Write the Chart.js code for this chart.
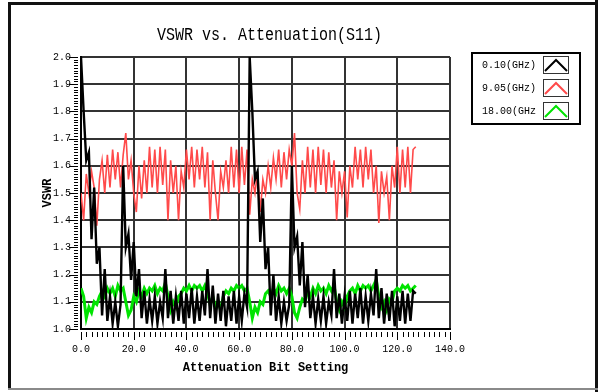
<!DOCTYPE html>
<html>
<head>
<meta charset="utf-8">
<script src="https://cdn.jsdelivr.net/npm/chart.js@4.4.0/dist/chart.umd.min.js"></script>
<style>
  html, body { margin: 0; padding: 0; background: #fff; }
  canvas { display: block; }
</style>
</head>
<body>
<canvas id="c" width="600" height="392"></canvas>
<script>
const chartTitle = 'VSWR vs. Attenuation(S11)';
const xTitle = 'Attenuation Bit Setting';
const yTitle = 'VSWR';
const seriesLabels = ['0.10(GHz)', '9.05(GHz)', '18.00(GHz'];
const seriesColors = ['#000000', '#ff4a4a', '#00e400'];

const bitSetting = [
  0,1,2,3,4,5,6,7,8,9,10,11,12,13,14,15,16,17,18,19,20,21,22,23,24,25,26,27,28,29,30,31,
  32,33,34,35,36,37,38,39,40,41,42,43,44,45,46,47,48,49,50,51,52,53,54,55,56,57,58,59,60,61,62,63,
  64,65,66,67,68,69,70,71,72,73,74,75,76,77,78,79,80,81,82,83,84,85,86,87,88,89,90,91,92,93,94,95,
  96,97,98,99,100,101,102,103,104,105,106,107,108,109,110,111,112,113,114,115,116,117,118,119,120,121,122,123,124,125,126,127
];

const vswr010 = [
  2.00,1.80,1.62,1.65,1.33,1.52,1.24,1.30,1.05,1.22,1.03,1.12,1.02,1.10,1.01,1.09,
  1.60,1.30,1.35,1.18,1.32,1.12,1.22,1.04,1.14,1.02,1.11,1.03,1.12,1.02,1.10,1.04,
  1.22,1.04,1.14,1.02,1.12,1.03,1.14,1.02,1.13,1.04,1.15,1.02,1.12,1.03,1.14,1.05,
  1.22,1.04,1.16,1.02,1.13,1.03,1.14,1.01,1.12,1.03,1.14,1.02,1.12,1.03,1.13,1.08,
  2.00,1.80,1.55,1.58,1.32,1.48,1.22,1.30,1.05,1.20,1.03,1.12,1.02,1.10,1.03,1.09,
  1.60,1.30,1.34,1.16,1.32,1.08,1.20,1.04,1.12,1.02,1.11,1.03,1.12,1.02,1.10,1.05,
  1.22,1.04,1.13,1.02,1.12,1.03,1.14,1.02,1.13,1.04,1.15,1.02,1.12,1.03,1.13,1.05,
  1.22,1.04,1.15,1.02,1.13,1.03,1.14,1.01,1.12,1.03,1.14,1.02,1.13,1.03,1.14,1.13
];

const vswr905 = [
  1.50,1.40,1.57,1.50,1.58,1.52,1.38,1.55,1.62,1.50,1.64,1.52,1.66,1.55,1.65,1.52,
  1.64,1.72,1.55,1.62,1.50,1.43,1.60,1.48,1.62,1.50,1.67,1.52,1.66,1.50,1.67,1.53,
  1.66,1.40,1.62,1.50,1.60,1.40,1.58,1.52,1.66,1.55,1.67,1.52,1.66,1.55,1.67,1.52,
  1.65,1.40,1.62,1.50,1.40,1.58,1.52,1.62,1.50,1.67,1.52,1.66,1.50,1.67,1.53,1.66,
  1.42,1.55,1.50,1.58,1.43,1.55,1.50,1.60,1.52,1.63,1.55,1.66,1.52,1.65,1.55,1.66,
  1.60,1.72,1.50,1.44,1.62,1.50,1.67,1.52,1.66,1.50,1.67,1.53,1.66,1.50,1.65,1.52,
  1.62,1.40,1.58,1.50,1.58,1.41,1.60,1.52,1.67,1.55,1.66,1.52,1.67,1.55,1.66,1.50,
  1.60,1.39,1.58,1.50,1.56,1.40,1.60,1.52,1.67,1.50,1.66,1.52,1.67,1.50,1.66,1.67
];

const vswr1800 = [
  1.15,1.12,1.04,1.08,1.06,1.10,1.09,1.12,1.14,1.12,1.15,1.13,1.15,1.12,1.16,1.14,
  1.15,1.10,1.05,1.07,1.12,1.10,1.14,1.12,1.15,1.13,1.15,1.14,1.16,1.13,1.15,1.14,
  1.17,1.12,1.07,1.10,1.08,1.12,1.13,1.15,1.14,1.16,1.14,1.16,1.15,1.16,1.14,1.16,
  1.13,1.09,1.12,1.08,1.10,1.07,1.12,1.14,1.13,1.15,1.14,1.16,1.15,1.16,1.14,1.15,
  1.10,1.04,1.08,1.06,1.10,1.09,1.13,1.14,1.12,1.15,1.13,1.16,1.14,1.15,1.13,1.15,
  1.12,1.06,1.04,1.08,1.11,1.10,1.14,1.12,1.15,1.13,1.16,1.14,1.15,1.13,1.16,1.14,
  1.16,1.10,1.07,1.10,1.08,1.12,1.14,1.15,1.13,1.16,1.14,1.16,1.15,1.16,1.14,1.16,
  1.18,1.12,1.08,1.10,1.07,1.11,1.10,1.14,1.15,1.14,1.16,1.15,1.16,1.14,1.15,1.16
];

const xTickStep = 20, xMin = 0, xMax = 140;
const yTickStep = 0.1, yMin = 1.0, yMax = 2.0;

const toPoints = arr => arr.map((v, i) => ({ x: bitSetting[i], y: v }));

const MONO = "'Liberation Mono', 'DejaVu Sans Mono', monospace";

const decor = {
  id: 'decor',
  beforeDraw(chart) {
    const { ctx, width, height } = chart;
    ctx.save();
    ctx.fillStyle = '#fff';
    ctx.fillRect(0, 0, width, height);
    ctx.restore();
  },
  afterDraw(chart) {
    const { ctx, chartArea: a, scales: { x, y } } = chart;
    ctx.save();
    ctx.strokeStyle = '#000';
    ctx.lineWidth = 1;
    ctx.beginPath();
    for (let v = xMin; v <= xMax; v += 2) {
      const px = Math.round(x.getPixelForValue(v)) + 0.5;
      const len = v % 20 === 0 ? 8 : 5;
      ctx.moveTo(px, a.bottom + 3);
      ctx.lineTo(px, a.bottom + 3 + len);
    }
    for (let i = 0; i <= 100; i++) {
      const py = Math.round(y.getPixelForValue(yMin + i / 100)) + 0.5;
      const len = i % 10 === 0 ? 9 : 4;
      ctx.moveTo(a.left - 3, py);
      ctx.lineTo(a.left - 3 - len, py);
    }
    ctx.stroke();

    ctx.fillStyle = '#000';
    ctx.font = '15px ' + MONO;
    ctx.textAlign = 'center';
    ctx.textBaseline = 'middle';
    ctx.save();
    ctx.translate((a.left + a.right) / 2 + 4, 35);
    ctx.scale(1, 1.2);
    ctx.fillText(chartTitle, 0, 0);
    ctx.restore();

    const lx = 472, ly = 53, lw = 108, lh = 71;
    ctx.strokeStyle = '#000';
    ctx.lineWidth = 2;
    ctx.strokeRect(lx, ly, lw, lh);
    chart.data.datasets.forEach((ds, i) => {
      const cy = ly + 12 + i * 23;
      ctx.fillStyle = '#000';
      ctx.font = '10px ' + MONO;
      ctx.textAlign = 'right';
      ctx.textBaseline = 'middle';
      ctx.fillText(ds.label, 536, cy);
      ctx.lineWidth = 1;
      ctx.strokeStyle = '#333';
      ctx.strokeRect(543.5, cy - 8.5, 25, 17);
      ctx.strokeStyle = ds.borderColor;
      ctx.lineWidth = 2;
      ctx.beginPath();
      ctx.moveTo(545, cy + 6);
      ctx.lineTo(556, cy - 5);
      ctx.lineTo(567, cy + 6);
      ctx.stroke();
    });

    ctx.fillStyle = '#111';
    ctx.fillRect(8, 2, 3, 388);
    ctx.fillRect(8, 2, 590, 3);
    ctx.fillRect(595, 0, 3, 392);
    ctx.fillStyle = '#8a8a8a';
    ctx.fillRect(8, 388, 590, 2);
    ctx.restore();
  }
};

new Chart(document.getElementById('c'), {
  type: 'line',
  data: {
    datasets: [
      { label: seriesLabels[0], data: toPoints(vswr010), borderColor: seriesColors[0], borderWidth: 2.4 },
      { label: seriesLabels[1], data: toPoints(vswr905), borderColor: seriesColors[1], borderWidth: 1.6 },
      { label: seriesLabels[2], data: toPoints(vswr1800), borderColor: seriesColors[2], borderWidth: 3 }
    ]
  },
  options: {
    responsive: false,
    animation: false,
    events: [],
    elements: { point: { radius: 0 }, line: { tension: 0 } },
    layout: { padding: { left: 0, right: 150, top: 57, bottom: 0 } },
    plugins: { legend: { display: false }, tooltip: { enabled: false }, title: { display: false } },
    scales: {
      x: {
        type: 'linear', min: xMin, max: xMax,
        afterFit: s => { s.height = 63; },
        ticks: {
          stepSize: xTickStep, color: '#000', padding: 14,
          font: { family: MONO, size: 10 },
          callback: v => Number(v).toFixed(1),
          maxRotation: 0, autoSkip: false
        },
        grid: { color: '#333', lineWidth: 2, drawTicks: false },
        border: { display: true, color: '#000', width: 2 },
        title: { display: true, text: xTitle, color: '#000', font: { family: MONO, size: 12, weight: 'bold' }, padding: { top: 0, bottom: 17 } }
      },
      y: {
        type: 'linear', min: yMin, max: yMax,
        afterFit: s => { s.width = 81; },
        ticks: {
          stepSize: yTickStep, color: '#000', padding: 10,
          font: { family: MONO, size: 10 },
          callback: v => Number(v).toFixed(1),
          autoSkip: false
        },
        grid: { color: '#333', lineWidth: 2, drawTicks: false },
        border: { display: true, color: '#000', width: 2 },
        title: { display: true, text: yTitle, color: '#000', font: { family: MONO, size: 12, weight: 'bold' }, padding: { top: 41, bottom: 0 } }
      }
    }
  },
  plugins: [decor]
});
</script>
</body>
</html>
